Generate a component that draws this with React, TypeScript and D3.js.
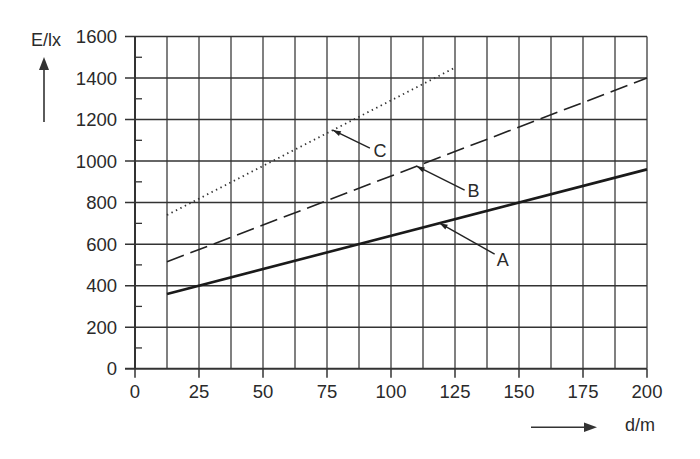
import * as d3 from 'd3';
import { useEffect, useRef } from 'react';

// distance d in m, illuminance E in lx
const seriesA: [number, number][] = [[12.5, 360], [200, 960]];
const seriesB: [number, number][] = [[12.5, 515], [200, 1400]];
const seriesC: [number, number][] = [[12.5, 740], [125, 1450]];

const xTicks = [0, 25, 50, 75, 100, 125, 150, 175, 200];
const yTicks = [0, 200, 400, 600, 800, 1000, 1200, 1400, 1600];

// label callouts: where the leader touches the curve (in m) and label offsets (px)
const callouts = [
  { name: 'C', data: seriesC, at: 77.3, ex: 37, ey: 18, tx: 47, ty: 27 },
  { name: 'B', data: seriesB, at: 110, ex: 48, ey: 24, tx: 57, ty: 31 },
  { name: 'A', data: seriesA, at: 119, ex: 55, ey: 31, tx: 63, ty: 43 },
];

export default function App() {
  const ref = useRef<SVGSVGElement | null>(null);

  useEffect(() => {
    if (!ref.current) return;
    const svg = d3.select(ref.current);
    svg.selectAll('*').remove();

    const font = '"Liberation Sans", Arial, sans-serif';
    const ink = '#2a2a2a';

    const x = d3.scaleLinear().domain([0, 200]).range([135, 647]);
    const y = d3.scaleLinear().domain([0, 1600]).range([368.7, 36.5]);

    const g = svg.append('g');

    // vertical grid every 12.5 m
    d3.range(12.5, 200.1, 12.5).forEach(v => {
      g.append('line')
        .attr('x1', x(v)).attr('x2', x(v))
        .attr('y1', y(0)).attr('y2', y(1600))
        .attr('stroke', '#3c3c3c').attr('stroke-width', 1.3);
    });

    // horizontal grid, running out as ticks on the left
    yTicks.forEach(v => {
      g.append('line')
        .attr('x1', x(0) - 10).attr('x2', x(200))
        .attr('y1', y(v)).attr('y2', y(v))
        .attr('stroke', '#333').attr('stroke-width', v === 0 ? 2 : 1.5);
      g.append('text')
        .attr('x', 117).attr('y', y(v))
        .attr('dy', '0.36em')
        .attr('text-anchor', 'end')
        .attr('font-family', font).attr('font-size', 18.5)
        .attr('fill', ink)
        .text(v);
    });

    // minor ticks at 100 lx steps
    d3.range(100, 1600, 200).forEach(v => {
      g.append('line')
        .attr('x1', x(0)).attr('x2', x(0) + 7)
        .attr('y1', y(v)).attr('y2', y(v))
        .attr('stroke', '#333').attr('stroke-width', 1.3);
    });

    // left axis
    g.append('line')
      .attr('x1', x(0)).attr('x2', x(0))
      .attr('y1', y(0)).attr('y2', y(1600))
      .attr('stroke', '#333').attr('stroke-width', 2);

    xTicks.forEach(v => {
      g.append('line')
        .attr('x1', x(v)).attr('x2', x(v))
        .attr('y1', y(0)).attr('y2', y(0) + 9)
        .attr('stroke', '#333').attr('stroke-width', 1.5);
      g.append('text')
        .attr('x', x(v)).attr('y', 398)
        .attr('text-anchor', 'middle')
        .attr('font-family', font).attr('font-size', 18.5)
        .attr('fill', ink)
        .text(v);
    });

    // curves
    const line = d3.line<[number, number]>()
      .x(d => x(d[0]))
      .y(d => y(d[1]));

    g.append('path').datum(seriesA)
      .attr('d', line).attr('fill', 'none')
      .attr('stroke', '#1a1a1a').attr('stroke-width', 2.6);
    g.append('path').datum(seriesB)
      .attr('d', line).attr('fill', 'none')
      .attr('stroke', '#222').attr('stroke-width', 1.6)
      .attr('stroke-dasharray', '18,7');
    g.append('path').datum(seriesC)
      .attr('d', line).attr('fill', 'none')
      .attr('stroke', '#333').attr('stroke-width', 1.8)
      .attr('stroke-dasharray', '1.4,3.6');

    // callouts
    callouts.forEach(c => {
      const [p0, p1] = c.data;
      const val = p0[1] + (p1[1] - p0[1]) * (c.at - p0[0]) / (p1[0] - p0[0]);
      const sx = x(c.at);
      const sy = y(val);
      const ex = sx + c.ex;
      const ey = sy + c.ey;
      g.append('line')
        .attr('x1', sx).attr('y1', sy)
        .attr('x2', ex).attr('y2', ey)
        .attr('stroke', '#222').attr('stroke-width', 1.4);
      const ang = Math.atan2(ey - sy, ex - sx);
      const len = 8, half = 2.6;
      const bx = sx + len * Math.cos(ang), by = sy + len * Math.sin(ang);
      const nx = -Math.sin(ang) * half, ny = Math.cos(ang) * half;
      g.append('path')
        .attr('d', `M${sx},${sy}L${bx + nx},${by + ny}L${bx - nx},${by - ny}Z`)
        .attr('fill', '#222');
      g.append('text')
        .attr('x', sx + c.tx).attr('y', sy + c.ty)
        .attr('text-anchor', 'middle')
        .attr('font-family', font).attr('font-size', 18)
        .attr('fill', ink)
        .text(c.name);
    });

    // axis titles with arrows
    g.append('text')
      .attr('x', 31).attr('y', 45.5)
      .attr('font-family', font).attr('font-size', 18)
      .attr('fill', ink)
      .text('E/lx');
    g.append('line')
      .attr('x1', 44).attr('x2', 44)
      .attr('y1', 122).attr('y2', 66)
      .attr('stroke', '#333').attr('stroke-width', 1.6);
    g.append('path')
      .attr('d', 'M44,57L39,70L49,70Z')
      .attr('fill', '#333');

    g.append('text')
      .attr('x', 625).attr('y', 430.5)
      .attr('font-family', font).attr('font-size', 18)
      .attr('fill', ink)
      .text('d/m');
    g.append('line')
      .attr('x1', 531).attr('x2', 588)
      .attr('y1', 427.3).attr('y2', 427.3)
      .attr('stroke', '#333').attr('stroke-width', 1.6);
    g.append('path')
      .attr('d', 'M597,427.3L584,422.5L584,432.1Z')
      .attr('fill', '#333');
  }, []);

  return (
    <svg
      ref={ref}
      width={700}
      height={459}
      style={{ position: 'absolute', left: 0, top: 0, background: '#fff' }}
    />
  );
}
